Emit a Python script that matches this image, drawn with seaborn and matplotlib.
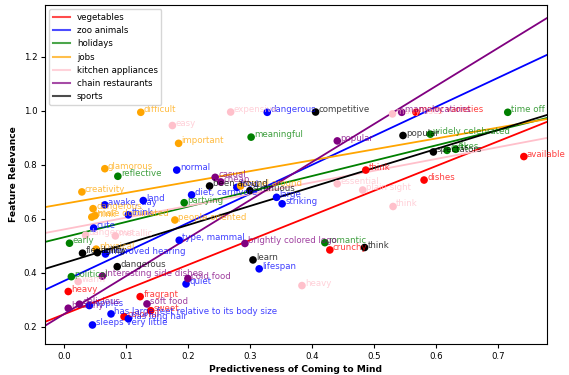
import numpy as np
import pandas as pd
import matplotlib
matplotlib.use("Agg")
import matplotlib.pyplot as plt
import seaborn as sns
from matplotlib.lines import Line2D

categories = ["vegetables", "zoo animals", "holidays", "jobs",
              "kitchen appliances", "chain restaurants", "sports"]
colors = ["red", "blue", "green", "orange", "pink", "purple", "black"]

# fitted line (intercept, slope) per category
line_intercepts = [0.2465, 0.370, 0.532, 0.656, 0.561, 0.247, 0.4365]
line_slopes = [0.915, 1.075, 0.567, 0.403, 0.435, 1.408, 0.704]

veg_labels = ["many varieties", "available", "dishes", "think", "crunchy",
              "heavy", "fragrant", "sweet", "colorful"]
veg_x = [0.568, 0.742, 0.581, 0.487, 0.429, 0.007, 0.123, 0.140, 0.097]
veg_y = [0.995, 0.831, 0.744, 0.781, 0.485, 0.331, 0.312, 0.260, 0.238]

zoo_labels = ["dangerous", "normal", "diet, carnivore", "land", "awake, day",
              "think", "cute", "type, mammal", "striking", "large", "lifespan",
              "quiet", "improved hearing",
              "has large feet relative to its body size", "has long hair",
              "sleeps very little", "nipples", "food"]
zoo_x = [0.328, 0.182, 0.206, 0.128, 0.066, 0.104, 0.048, 0.186, 0.352, 0.343,
         0.315, 0.197, 0.067, 0.076, 0.104, 0.046, 0.041, 0.279]
zoo_y = [0.995, 0.781, 0.689, 0.668, 0.652, 0.615, 0.566, 0.521, 0.656, 0.680,
         0.415, 0.359, 0.470, 0.248, 0.230, 0.207, 0.279, 0.717]

hol_labels = ["time off", "widely celebrated", "gifts", "likes", "meaningful",
              "reflective", "partying", "early", "political", "romantic"]
hol_x = [0.716, 0.591, 0.618, 0.632, 0.302, 0.087, 0.194, 0.009, 0.012, 0.421]
hol_y = [0.995, 0.914, 0.854, 0.858, 0.903, 0.758, 0.660, 0.510, 0.386, 0.512]

job_labels = ["difficult", "important", "glamorous", "creativity", "dangerous",
              "think", "male dominated", "people oriented", "physical",
              "travel around"]
job_x = [0.124, 0.185, 0.066, 0.029, 0.047, 0.045, 0.050, 0.179, 0.052, 0.285]
job_y = [0.995, 0.880, 0.786, 0.700, 0.638, 0.607, 0.612, 0.596, 0.488, 0.722]

kit_labels = ["easy", "expensive", "plain sight", "essential", "think", "heavy",
              "warm", "metallic", "dangerous", "many uses"]
kit_x = [0.175, 0.269, 0.482, 0.441, 0.531, 0.384, 0.023, 0.083, 0.035, 0.530]
kit_y = [0.946, 0.996, 0.707, 0.730, 0.646, 0.353, 0.368, 0.537, 0.540, 0.989]

chain_labels = ["many locations", "popular", "casual", "brightly colored logo",
                "cold food", "interesting side dishes", "soft food", "healthy",
                "delicious", "cheap"]
chain_x = [0.545, 0.441, 0.244, 0.292, 0.200, 0.062, 0.134, 0.007, 0.025, 0.253]
chain_y = [0.995, 0.889, 0.754, 0.509, 0.379, 0.388, 0.285, 0.269, 0.284, 0.737]

sport_labels = ["competitive", "popular", "spectators", "think", "learn",
                "been around", "strenuous", "flexibility", "agility", "dangerous"]
sport_x = [0.406, 0.547, 0.596, 0.485, 0.305, 0.235, 0.300, 0.030, 0.054, 0.086]
sport_y = [0.996, 0.909, 0.848, 0.494, 0.448, 0.722, 0.705, 0.473, 0.475, 0.423]

groups = [(veg_labels, veg_x, veg_y), (zoo_labels, zoo_x, zoo_y),
          (hol_labels, hol_x, hol_y), (job_labels, job_x, job_y),
          (kit_labels, kit_x, kit_y), (chain_labels, chain_x, chain_y),
          (sport_labels, sport_x, sport_y)]

rows = []
for cat, (labs, xs, ys) in zip(categories, groups):
    for l, x, y in zip(labs, xs, ys):
        rows.append({"category": cat, "feature": l, "x": x, "y": y})
df = pd.DataFrame(rows)

fig = plt.figure(figsize=(5.69, 3.75), dpi=100)
ax = fig.add_axes([0.079, 0.083, 0.882, 0.904])

xlim = (-0.0306, 0.779)
ylim = (0.137, 1.393)
xx = np.array(xlim)

handles = []
for cat, col, a, b in zip(categories, colors, line_intercepts, line_slopes):
    ax.plot(xx, a + b * xx, color=col, lw=1.3, zorder=1)
    handles.append(Line2D([0], [0], color=col, lw=1.5, alpha=0.7, label=cat))

palette = dict(zip(categories, colors))
sns.scatterplot(data=df, x="x", y="y", hue="category", palette=palette,
                s=30, edgecolor="none", legend=False, ax=ax, zorder=3)

for _, r in df.iterrows():
    ax.text(r["x"] + 0.005, r["y"], r["feature"], color=palette[r["category"]],
            alpha=0.75, fontsize=6.2, zorder=4)

ax.set_xlim(*xlim)
ax.set_ylim(*ylim)
ax.set_xticks(np.arange(0, 0.71, 0.1))
ax.set_yticks(np.arange(0.2, 1.21, 0.2))
ax.tick_params(labelsize=6.2, length=3, pad=2.5)
ax.set_xlabel("Predictiveness of Coming to Mind", fontsize=6.6,
              fontweight="bold", labelpad=3)
ax.set_ylabel("Feature Relevance", fontsize=6.6, fontweight="bold", labelpad=4)
ax.legend(handles=handles, loc="upper left", fontsize=6.2)

fig.savefig("out.png", dpi=100)
